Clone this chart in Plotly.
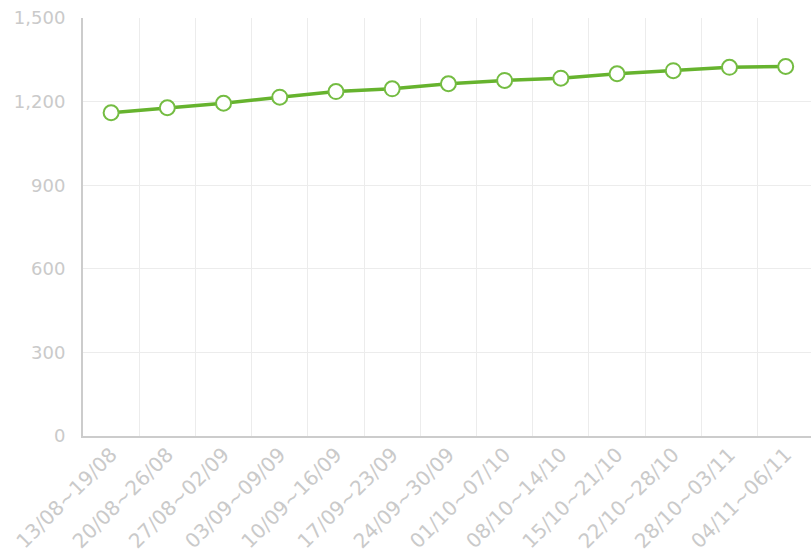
import plotly.graph_objects as go

weeks = ["13/08~19/08", "20/08~26/08", "27/08~02/09", "03/09~09/09", "10/09~16/09",
         "17/09~23/09", "24/09~30/09", "01/10~07/10", "08/10~14/10", "15/10~21/10",
         "22/10~28/10", "28/10~03/11", "04/11~06/11"]
values = [1160, 1178, 1194, 1216, 1236, 1246, 1264, 1276, 1284, 1300, 1311, 1323, 1326]
y_ticks = [0, 300, 600, 900, 1200, 1500]

fig = go.Figure(go.Scatter(
    x=weeks, y=values, mode="lines+markers",
    line=dict(color="#66b32e", width=3.5),
    marker=dict(size=15, color="white", line=dict(color="#74bc42", width=2)),
    hoverinfo="skip",
))

yfont = dict(family="DejaVu Sans, sans-serif", size=18, color="#cacaca")
xfont = dict(family="DejaVu Sans, sans-serif", size=20, color="#cacaca")
fig.update_layout(
    width=811, height=557,
    margin=dict(l=83, r=0, t=18, b=121, autoexpand=False),
    paper_bgcolor="white", plot_bgcolor="white",
    showlegend=False,
    font=yfont,
)
fig.update_xaxes(
    type="category", range=[-0.5, 12.45], tickson="boundaries",
    showgrid=True, gridcolor="#ececec", gridwidth=1,
    showline=True, linecolor="#cccccc", linewidth=2,
    ticks="", tickangle=-45, tickfont=xfont, automargin=False,
    ticklabelstandoff=-3,
)
fig.update_yaxes(
    range=[0, 1500], tickvals=y_ticks, tickformat=",",
    showgrid=True, gridcolor="#ececec", gridwidth=1,
    showline=True, linecolor="#cccccc", linewidth=2, zeroline=False,
    ticks="", tickfont=yfont, automargin=False, ticklabelstandoff=12,
    ticklabeloverflow="allow",
)
fig.write_html("out.html", config={"displayModeBar": False},
               post_script="document.body.style.margin='0px';")
